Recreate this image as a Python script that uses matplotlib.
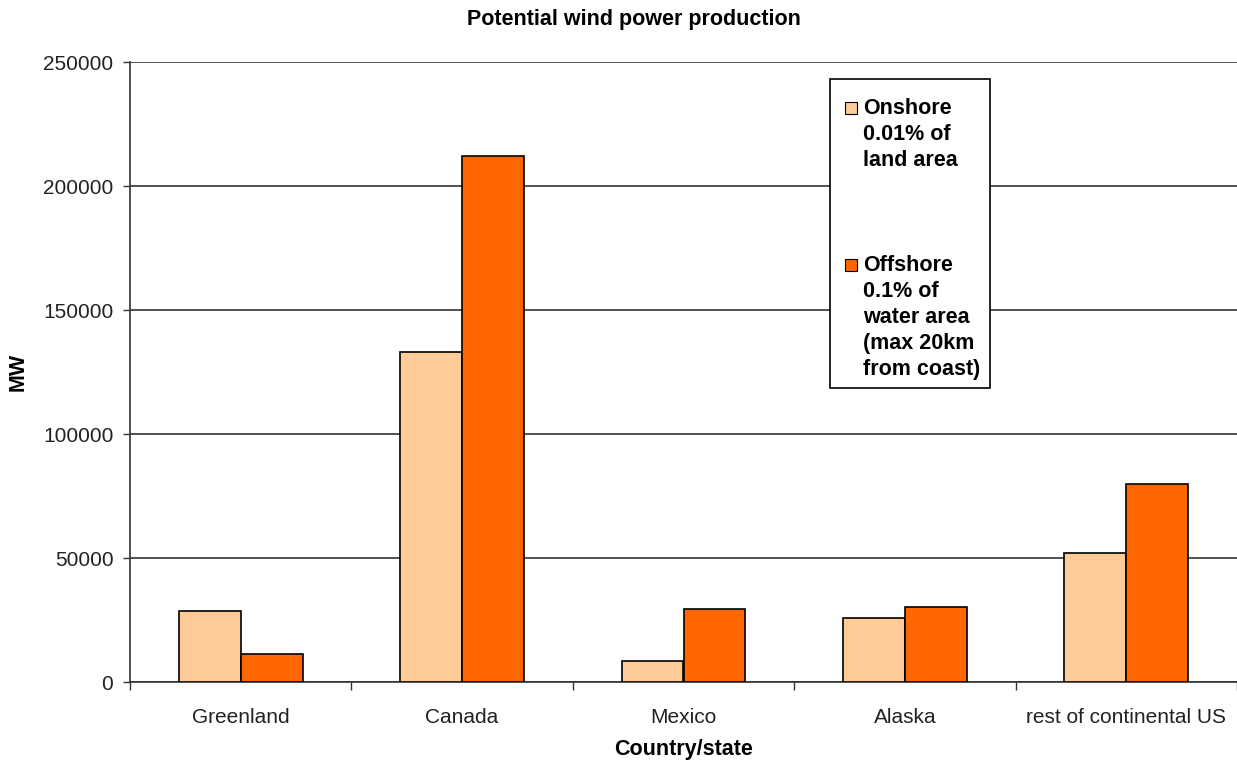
import matplotlib.pyplot as plt
from matplotlib.patches import Rectangle
import numpy as np

plt.rcParams['font.family'] = ['Liberation Sans', 'DejaVu Sans']

# Potential wind power production, MW
regions = ["Greenland", "Canada", "Mexico", "Alaska", "rest of continental US"]
onshore = [28500, 133000, 8500, 25700, 52100]
offshore = [11200, 212200, 29600, 30100, 79800]
yticks = [0, 50000, 100000, 150000, 200000, 250000]

light = "#FFCC99"
dark = "#FF6600"
fs = 15
fsb = 15.5

fig = plt.figure(figsize=(12.37, 7.65), dpi=100)
ax = fig.add_axes([130 / 1237, 83 / 765, 1107 / 1237, 620 / 765])

x = np.arange(len(regions))
w = 0.28
ax.bar(x - w / 2, onshore, w, color=light, edgecolor="black", linewidth=1.2, zorder=3)
ax.bar(x + w / 2, offshore, w, color=dark, edgecolor="black", linewidth=1.2, zorder=3)

ax.set_xlim(-0.5, len(regions) - 0.5)
ax.set_ylim(0, 250000)
ax.set_yticks(yticks)
ax.set_yticklabels([str(v) for v in yticks], fontsize=fs, color="#222222")
ax.yaxis.grid(True, color="#333333", linewidth=1.2, zorder=0)
ax.tick_params(axis="y", length=5, width=1, pad=7, color="#333333")

# category separators as ticks, names centred between them
ax.set_xticks(np.arange(-0.5, len(regions)))
ax.set_xticklabels([])
ax.set_xticks(x, minor=True)
ax.set_xticklabels(regions, minor=True, fontsize=fs, color="#222222")
ax.tick_params(axis="x", which="major", length=6, width=1, color="#333333")
ax.tick_params(axis="x", which="minor", length=0, pad=19)

for side in ("top", "right"):
    ax.spines[side].set_visible(False)
for side in ("left", "bottom"):
    ax.spines[side].set_color("#333333")
    ax.spines[side].set_linewidth(1.2)

ax.set_ylabel("MW", fontsize=fsb, fontweight="bold")
ax.yaxis.set_label_coords(-0.092, 0.5)
ax.set_xlabel("Country/state", fontsize=fsb, fontweight="bold")
ax.xaxis.set_label_coords(0.5, -0.092)

fig.text(634 / 1237, 1 - 20 / 765, "Potential wind power production",
         fontsize=fsb, fontweight="bold", ha="center", va="center")


def px(xp, yp):
    return xp / 1237, 1 - yp / 765


# legend box
x0, y0 = px(830, 388)
x1, y1 = px(990, 79)
fig.patches.append(Rectangle((x0, y0), x1 - x0, y1 - y0, transform=fig.transFigure,
                             facecolor="white", edgecolor="black", linewidth=1.2, zorder=5))
entries = [
    (light, 108, "Onshore\n0.01% of\nland area"),
    (dark, 265, "Offshore\n0.1% of\nwater area\n(max 20km\nfrom coast)"),
]
for color, yc, label in entries:
    sx, sy = px(845, yc + 6)
    fig.patches.append(Rectangle((sx, sy), 12 / 1237, 12 / 765, transform=fig.transFigure,
                                 facecolor=color, edgecolor="black", linewidth=0.8, zorder=6))
    tx, ty = px(863, yc - 10)
    fig.text(tx, ty, label, fontsize=fsb, fontweight="bold", ha="left", va="top",
             linespacing=1.31, zorder=6)

fig.savefig("out.png", dpi=100)
